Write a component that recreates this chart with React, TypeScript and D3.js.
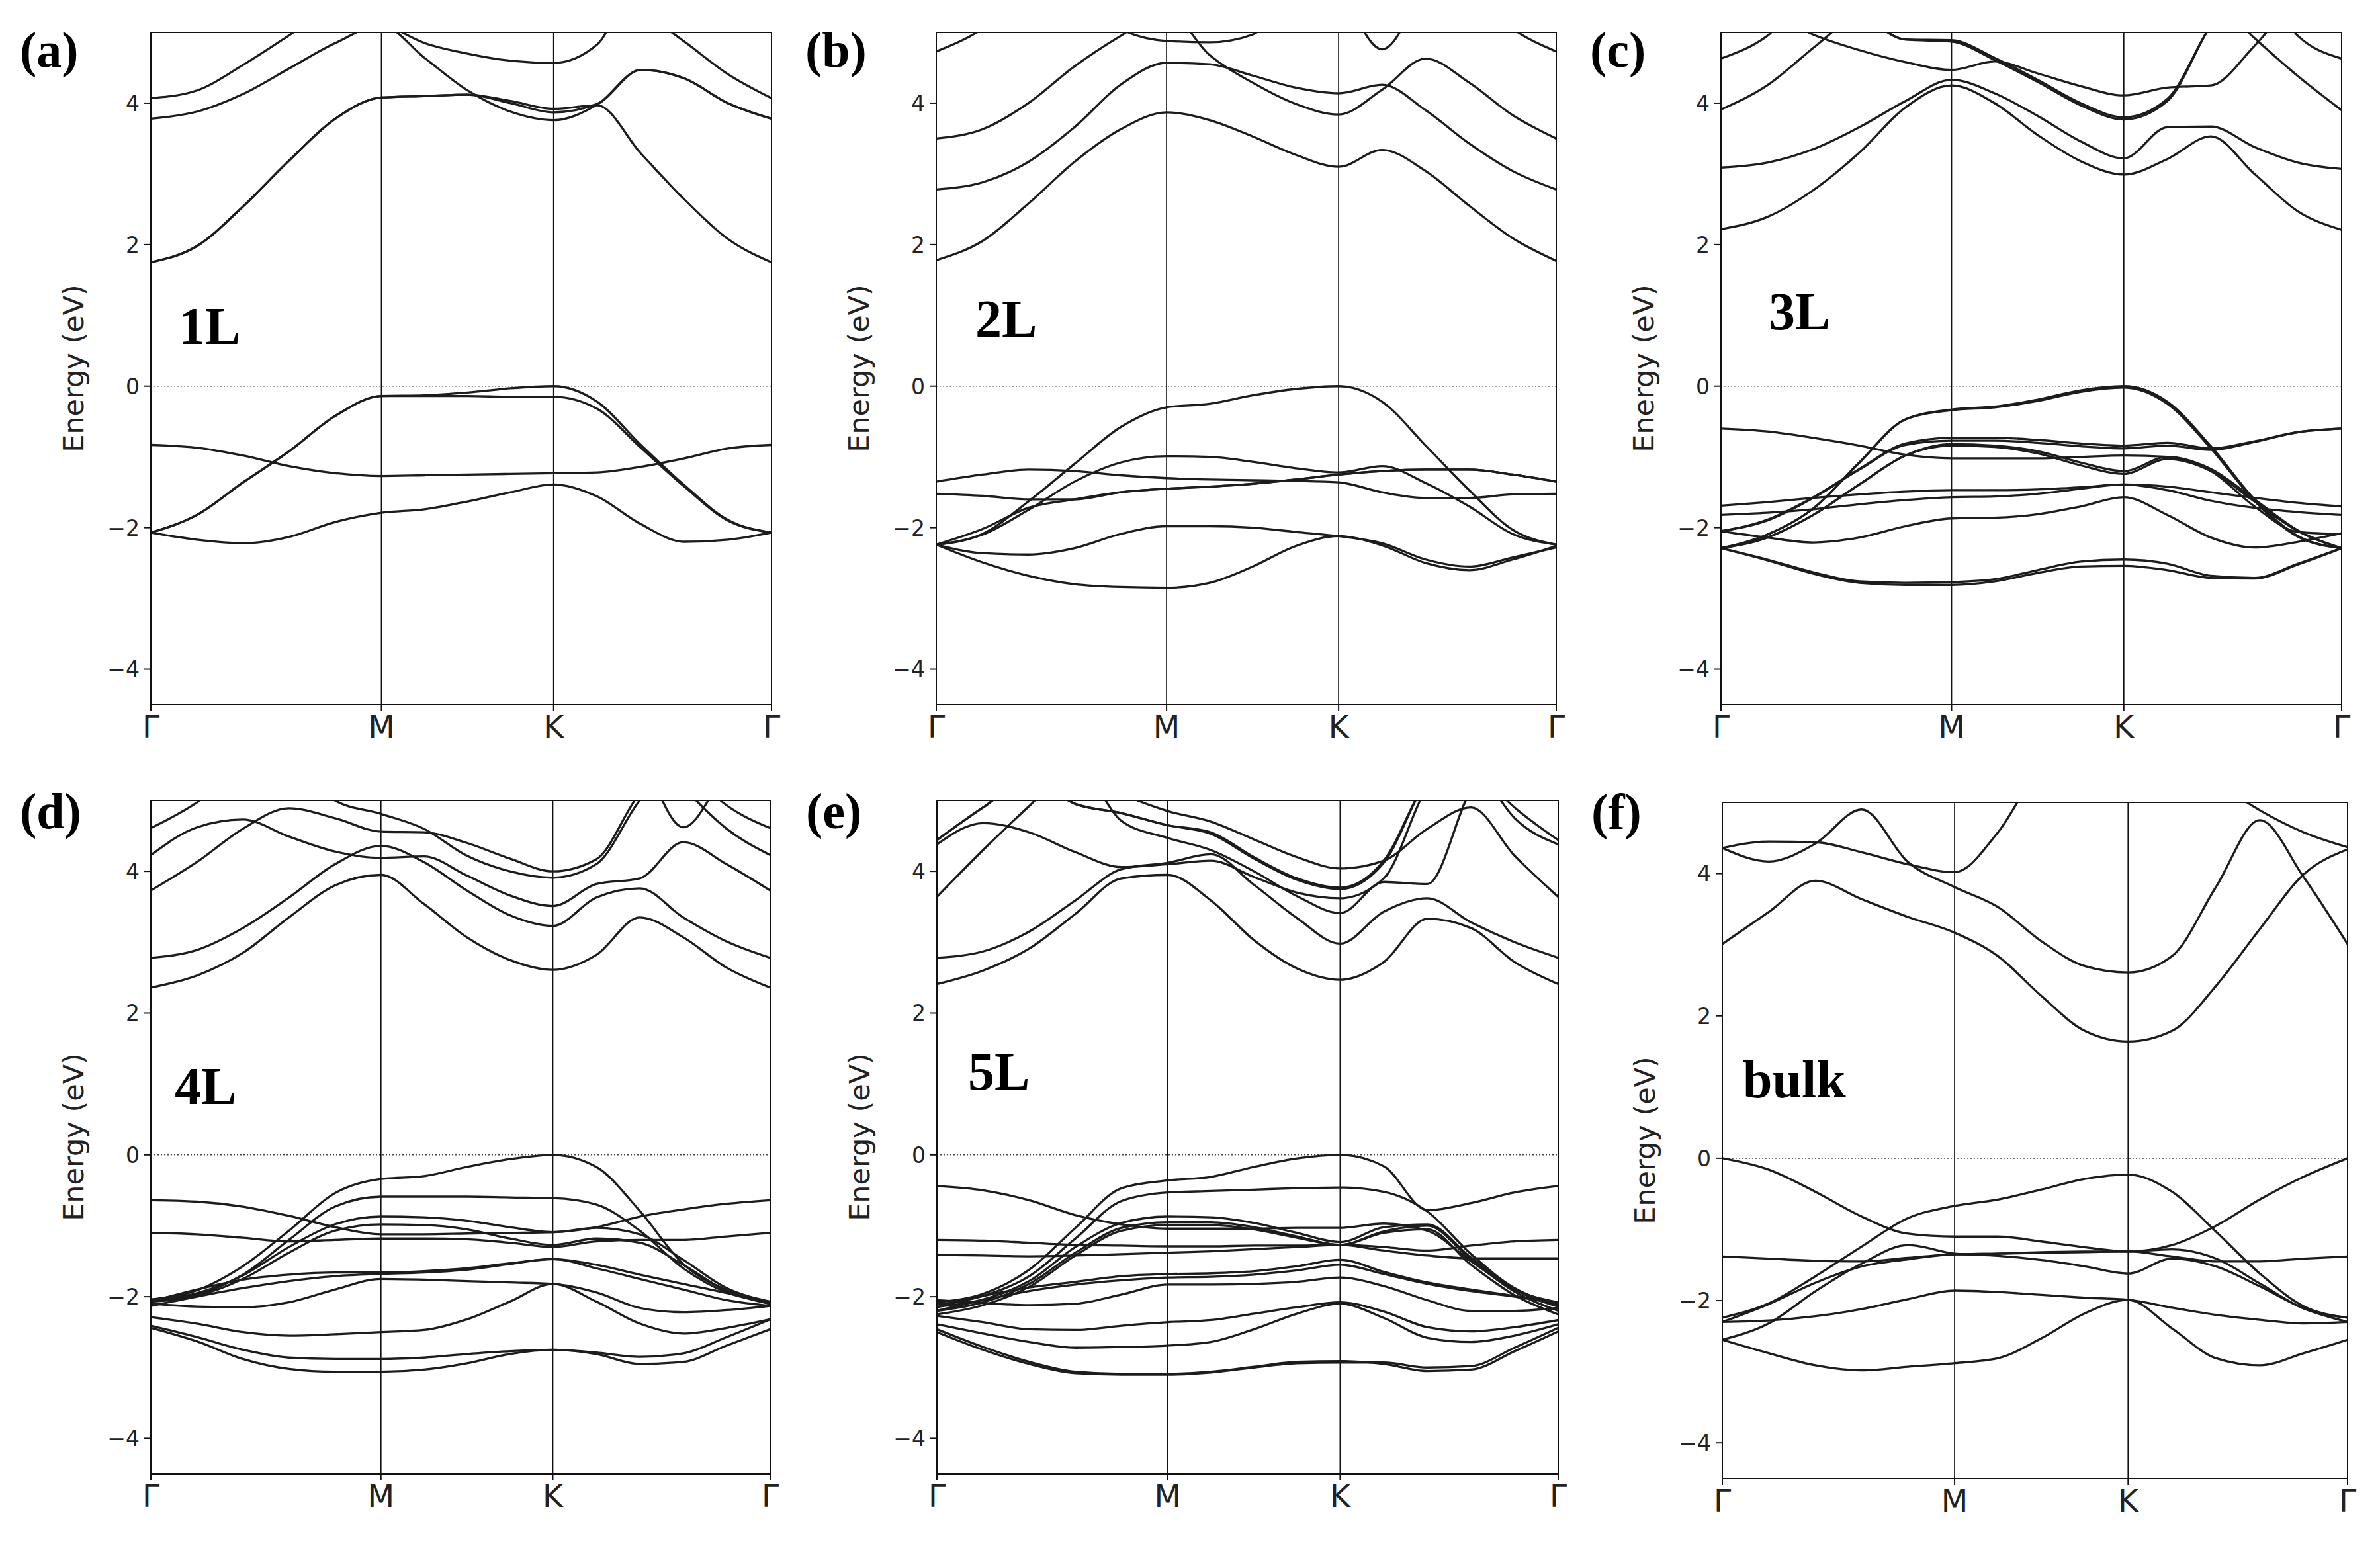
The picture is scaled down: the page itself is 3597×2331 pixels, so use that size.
import React from 'react'
import * as d3 from 'd3'

const W = 3597
const H = 2331

// k path Γ-M-K-Γ, positions as fraction of the path
const K_M = 0.3715
const K_K = 0.649
const gridGM = [0, 0.2, 0.4, 0.6, 0.8, 1]
const gridMK = [0.25, 0.5, 0.75, 1]
const gridKG = [0.2, 0.4, 0.6, 0.8, 1]
const kGrid = [
  ...gridGM.map(t => t * K_M),
  ...gridMK.map(t => K_M + t * (K_K - K_M)),
  ...gridKG.map(t => K_K + t * (1 - K_K)),
]
const kTicks = [0, K_M, K_K, 1]
const kLabels = ['Γ', 'M', 'K', 'Γ']
const eTicks = [-4, -2, 0, 2, 4]

// energies (eV) at the 15 k-points of kGrid
const bands1L = [
  [-2.07, -1.82, -1.36, -0.92, -0.42, -0.14, -0.13, -0.09, -0.03, 0.0, -0.22, -0.83, -1.4, -1.89, -2.07],
  [-2.07, -1.82, -1.36, -0.92, -0.42, -0.14, -0.14, -0.14, -0.15, -0.15, -0.32, -0.87, -1.42, -1.9, -2.07],
  [-0.83, -0.87, -0.98, -1.13, -1.23, -1.27, -1.26, -1.25, -1.24, -1.23, -1.22, -1.14, -1.02, -0.88, -0.83],
  [-2.07, -2.17, -2.22, -2.13, -1.92, -1.79, -1.74, -1.63, -1.5, -1.39, -1.56, -1.95, -2.2, -2.17, -2.07],
  [1.75, 1.98, 2.54, 3.19, 3.78, 4.08, 4.1, 4.12, 4.03, 3.92, 3.97, 3.29, 2.64, 2.08, 1.75],
  [1.75, 1.98, 2.54, 3.19, 3.78, 4.08, 4.1, 4.12, 4.0, 3.87, 3.99, 4.47, 4.35, 4.0, 3.78],
  [3.78, 3.88, 4.13, 4.49, 4.85, 5.1, 4.64, 4.18, 3.88, 3.76, 3.98, 4.47, 4.35, 4.0, 3.78],
  [4.07, 4.18, 4.54, 4.96, 5.4, 5.6, 5.6, 5.6, 5.5, 5.4, 5.6, 5.3, 4.87, 4.41, 4.07],
  [5.8, 5.8, 5.7, 5.6, 5.4, 5.15, 4.85, 4.7, 4.6, 4.57, 4.83, 5.8, 5.8, 5.8, 5.8],
]

const bands2L = [
  [-2.24, -2.09, -1.63, -1.1, -0.58, -0.3, -0.25, -0.13, -0.04, 0, -0.22, -0.84, -1.47, -2.03, -2.24],
  [-2.24, -2.1, -1.75, -1.35, -1.08, -0.99, -1.0, -1.07, -1.16, -1.22, -1.13, -1.37, -1.7, -2.09, -2.24],
  [-2.24, -2.02, -1.72, -1.6, -1.5, -1.45, -1.42, -1.38, -1.32, -1.25, -1.2, -1.18, -1.18, -1.25, -1.35],
  [-1.35, -1.25, -1.18, -1.2, -1.26, -1.3, -1.32, -1.33, -1.34, -1.36, -1.5, -1.58, -1.58, -1.53, -1.52],
  [-1.52, -1.55, -1.6, -1.6, -1.5, -1.45, -1.42, -1.38, -1.32, -1.25, -1.2, -1.18, -1.18, -1.25, -1.35],
  [-2.24, -2.36, -2.38, -2.29, -2.09, -1.98, -1.98, -2.0, -2.06, -2.12, -2.22, -2.45, -2.55, -2.42, -2.28],
  [-2.24, -2.49, -2.68, -2.8, -2.84, -2.85, -2.78, -2.55, -2.26, -2.12, -2.25, -2.5, -2.6, -2.45, -2.26],
  [1.78, 2.05, 2.58, 3.17, 3.63, 3.87, 3.76, 3.53, 3.27, 3.1, 3.34, 3.04, 2.55, 2.09, 1.77],
  [2.78, 2.88, 3.17, 3.66, 4.26, 4.57, 4.55, 4.39, 4.22, 4.14, 4.26, 3.9, 3.43, 3.04, 2.78],
  [3.5, 3.63, 4.0, 4.52, 4.95, 5.3, 4.68, 4.29, 3.99, 3.84, 4.19, 4.63, 4.29, 3.83, 3.5],
  [4.73, 5.05, 5.6, 5.8, 5.05, 4.88, 4.86, 4.97, 5.6, 5.8, 5.8, 5.8, 5.6, 5.05, 4.73],
  [6, 6, 6, 6, 6, 6, 6, 6, 6, 5.6, 4.76, 5.6, 6, 6, 6],
]

const bands3L = [
  [-2.29, -2.1, -1.73, -1.08, -0.47, -0.33, -0.29, -0.19, -0.06, 0.0, -0.22, -0.85, -1.6, -2.12, -2.29],
  [-2.29, -2.1, -1.73, -1.08, -0.47, -0.34, -0.3, -0.21, -0.08, -0.02, -0.25, -0.88, -1.62, -2.13, -2.29],
  [-0.6, -0.64, -0.73, -0.84, -0.97, -1.02, -1.02, -1.02, -1.0, -0.98, -1.0, -1.2, -1.7, -2.06, -2.09],
  [-2.05, -1.89, -1.57, -1.17, -0.81, -0.73, -0.73, -0.76, -0.81, -0.84, -0.8, -0.88, -0.78, -0.65, -0.6],
  [-2.05, -1.9, -1.58, -1.18, -0.83, -0.77, -0.77, -0.8, -0.85, -0.88, -0.84, -0.9, -0.79, -0.65, -0.6],
  [-2.29, -2.14, -1.82, -1.39, -0.98, -0.82, -0.84, -0.92, -1.08, -1.2, -1.0, -1.17, -1.6, -2.04, -2.29],
  [-2.29, -2.14, -1.82, -1.39, -0.98, -0.84, -0.86, -0.95, -1.12, -1.24, -1.03, -1.2, -1.63, -2.05, -2.29],
  [-1.69, -1.64, -1.58, -1.53, -1.49, -1.47, -1.47, -1.46, -1.43, -1.39, -1.42, -1.5, -1.58, -1.65, -1.7],
  [-1.82, -1.79, -1.74, -1.67, -1.61, -1.57, -1.56, -1.52, -1.45, -1.39, -1.47, -1.62, -1.72, -1.78, -1.82],
  [-2.05, -2.14, -2.21, -2.14, -1.98, -1.87, -1.86, -1.81, -1.7, -1.57, -1.82, -2.14, -2.28, -2.2, -2.08],
  [-2.29, -2.45, -2.63, -2.76, -2.78, -2.77, -2.73, -2.6, -2.48, -2.45, -2.51, -2.68, -2.71, -2.51, -2.29],
  [-2.29, -2.46, -2.65, -2.78, -2.81, -2.81, -2.76, -2.64, -2.55, -2.54, -2.6, -2.71, -2.72, -2.52, -2.29],
  [2.22, 2.39, 2.77, 3.3, 3.94, 4.25, 4.0, 3.55, 3.18, 2.99, 3.21, 3.53, 3.0, 2.47, 2.21],
  [3.09, 3.16, 3.35, 3.66, 4.03, 4.33, 4.14, 3.82, 3.46, 3.22, 3.66, 3.67, 3.38, 3.16, 3.07],
  [3.91, 4.25, 4.78, 5.3, 5.6, 5.7, 5.8, 5.8, 5.8, 5.8, 5.8, 5.5, 4.92, 4.38, 3.9],
  [5.6, 5.3, 4.97, 4.75, 4.58, 4.47, 4.59, 4.42, 4.24, 4.11, 4.22, 4.25, 4.81, 5.5, 5.8],
  [5.8, 5.8, 5.7, 5.3, 4.9, 4.89, 4.64, 4.33, 4.0, 3.8, 4.06, 5.1, 5.8, 5.8, 5.8],
  [5.8, 5.8, 5.7, 5.3, 4.9, 4.87, 4.61, 4.3, 3.97, 3.77, 4.03, 5.1, 5.8, 5.8, 5.8],
  [4.63, 4.95, 5.6, 5.8, 5.8, 5.8, 5.8, 5.8, 5.8, 5.8, 5.8, 5.8, 5.8, 4.95, 4.63],
]

const bands4L = [
  [-2.04, -1.91, -1.57, -1.07, -0.54, -0.34, -0.3, -0.17, -0.06, 0, -0.17, -0.79, -1.54, -1.91, -2.1],
  [-2.06, -1.97, -1.69, -1.2, -0.73, -0.59, -0.59, -0.59, -0.6, -0.61, -0.7, -1.07, -1.6, -1.94, -2.07],
  [-0.64, -0.66, -0.73, -0.86, -1.02, -1.12, -1.12, -1.11, -1.1, -1.09, -1.02, -0.87, -0.77, -0.69, -0.64],
  [-1.1, -1.12, -1.17, -1.22, -1.2, -1.18, -1.18, -1.19, -1.24, -1.3, -1.22, -1.2, -1.2, -1.15, -1.1],
  [-2.04, -1.95, -1.7, -1.3, -0.98, -0.87, -0.88, -0.93, -1.02, -1.09, -1.03, -1.12, -1.48, -1.88, -2.07],
  [-2.07, -1.99, -1.75, -1.38, -1.07, -0.98, -0.99, -1.05, -1.18, -1.27, -1.18, -1.24, -1.55, -1.92, -2.1],
  [-2.07, -1.9, -1.76, -1.69, -1.66, -1.66, -1.64, -1.6, -1.53, -1.47, -1.55, -1.69, -1.82, -1.95, -2.1],
  [-2.13, -2.0, -1.88, -1.78, -1.71, -1.68, -1.66, -1.62, -1.54, -1.47, -1.6, -1.75, -1.9, -2.05, -2.13],
  [-2.1, -2.14, -2.15, -2.08, -1.9, -1.75, -1.76, -1.78, -1.8, -1.82, -1.94, -2.16, -2.22, -2.19, -2.13],
  [-2.29, -2.38, -2.5, -2.55, -2.53, -2.5, -2.47, -2.32, -2.07, -1.82, -2.07, -2.38, -2.52, -2.44, -2.32],
  [-2.41, -2.57, -2.75, -2.86, -2.88, -2.88, -2.86, -2.81, -2.77, -2.75, -2.79, -2.85, -2.8, -2.57, -2.32],
  [-2.44, -2.63, -2.88, -3.02, -3.06, -3.06, -3.03, -2.94, -2.81, -2.75, -2.81, -2.95, -2.92, -2.69, -2.46],
  [2.36, 2.53, 2.85, 3.35, 3.8, 3.95, 3.54, 3.07, 2.75, 2.61, 2.82, 3.35, 3.07, 2.64, 2.36],
  [2.78, 2.89, 3.2, 3.63, 4.1, 4.36, 4.13, 3.73, 3.38, 3.23, 3.63, 3.76, 3.35, 3.01, 2.78],
  [3.73, 4.13, 4.6, 4.89, 4.75, 4.56, 4.55, 4.4, 4.18, 4.0, 4.17, 5.1, 5.6, 5.6, 5.6],
  [4.23, 4.62, 4.73, 4.49, 4.28, 4.19, 4.21, 3.94, 3.66, 3.51, 3.82, 3.9, 4.41, 4.1, 3.73],
  [4.61, 4.97, 5.5, 5.6, 5.0, 4.81, 4.6, 4.22, 4.0, 3.91, 4.1, 5.0, 5.6, 5.6, 5.6],
  [6, 6, 6, 6, 6, 6, 6, 6, 6, 6, 6, 5.6, 4.62, 5.4, 6],
  [6, 6, 6, 6, 6, 6, 6, 6, 6, 6, 6, 6, 5.5, 4.93, 4.61],
  [6, 6, 6, 6, 6, 6, 6, 6, 6, 6, 6, 6, 5.2, 4.6, 4.23],
]

const bands5L = [
  [-2.08, -1.96, -1.62, -1.03, -0.47, -0.36, -0.31, -0.17, -0.05, 0, -0.16, -0.78, -0.68, -0.53, -0.44],
  [-2.11, -1.99, -1.71, -1.18, -0.65, -0.53, -0.51, -0.49, -0.47, -0.46, -0.52, -0.8, -1.4, -1.88, -2.11],
  [-0.44, -0.5, -0.64, -0.85, -0.98, -1.04, -1.04, -1.04, -1.03, -1.03, -0.97, -1.07, -1.5, -1.9, -2.08],
  [-2.14, -2.04, -1.78, -1.3, -0.96, -0.87, -0.88, -0.96, -1.1, -1.23, -1.02, -0.98, -1.45, -1.9, -2.14],
  [-2.2, -2.08, -1.82, -1.38, -1.03, -0.95, -0.95, -1.02, -1.15, -1.27, -1.08, -1.0, -1.48, -1.93, -2.2],
  [-2.25, -2.12, -1.86, -1.42, -1.07, -0.99, -0.99, -1.05, -1.17, -1.27, -1.1, -1.05, -1.55, -1.98, -2.25],
  [-1.2, -1.21, -1.24, -1.27, -1.28, -1.29, -1.29, -1.28, -1.28, -1.27, -1.3, -1.35, -1.28, -1.22, -1.2],
  [-1.41, -1.42, -1.43, -1.42, -1.4, -1.38, -1.36, -1.33, -1.3, -1.27, -1.35, -1.42, -1.46, -1.46, -1.46],
  [-2.15, -1.99, -1.87, -1.79, -1.71, -1.68, -1.67, -1.64, -1.57, -1.48, -1.65, -1.8, -1.9, -1.99, -2.08],
  [-2.2, -2.05, -1.92, -1.83, -1.77, -1.73, -1.72, -1.69, -1.63, -1.55, -1.68, -1.82, -1.92, -2.0, -2.1],
  [-2.05, -2.09, -2.12, -2.1, -1.97, -1.83, -1.83, -1.82, -1.79, -1.73, -1.85, -2.05, -2.2, -2.2, -2.16],
  [-2.27, -2.36, -2.46, -2.47, -2.41, -2.36, -2.33, -2.24, -2.15, -2.08, -2.21, -2.43, -2.49, -2.43, -2.33],
  [-2.39, -2.52, -2.64, -2.72, -2.71, -2.69, -2.64, -2.46, -2.24, -2.1, -2.3, -2.58, -2.64, -2.55, -2.39],
  [-2.46, -2.71, -2.92, -3.06, -3.09, -3.09, -3.06, -2.99, -2.92, -2.91, -2.95, -3.05, -3.03, -2.77, -2.49],
  [-2.5, -2.75, -2.95, -3.08, -3.1, -3.1, -3.07, -3.0, -2.94, -2.93, -2.93, -3.0, -2.98, -2.72, -2.44],
  [2.41, 2.6, 2.91, 3.4, 3.9, 3.95, 3.59, 3.03, 2.63, 2.47, 2.72, 3.33, 3.2, 2.72, 2.41],
  [2.78, 2.87, 3.15, 3.59, 4.03, 4.12, 4.24, 3.81, 3.34, 2.98, 3.43, 3.62, 3.28, 3.0, 2.78],
  [3.64, 4.3, 4.92, 5.5, 4.71, 4.47, 4.3, 4.0, 3.65, 3.41, 3.85, 3.82, 5.15, 5.8, 5.8],
  [4.38, 4.68, 4.55, 4.27, 4.06, 4.1, 4.15, 3.92, 3.7, 3.62, 3.9, 5.2, 5.8, 5.8, 5.8],
  [4.44, 4.9, 5.3, 4.95, 4.82, 4.65, 4.55, 4.2, 3.9, 3.77, 4.15, 5.3, 5.8, 5.8, 5.8],
  [4.44, 4.9, 5.3, 4.95, 4.82, 4.65, 4.53, 4.18, 3.88, 3.75, 4.12, 5.3, 5.8, 5.8, 5.8],
  [5.8, 5.8, 5.8, 5.5, 5.1, 4.85, 4.7, 4.45, 4.2, 4.04, 4.15, 4.6, 4.9, 4.22, 3.64],
  [6, 6, 6, 6, 6, 6, 6, 6, 6, 6, 6, 6, 5.5, 4.9, 4.44],
  [6, 6, 6, 6, 6, 6, 6, 6, 6, 6, 6, 6, 5.6, 4.75, 4.38],
]

const bandsBulk = [
  [0, -0.16, -0.47, -0.82, -1.06, -1.1, -1.1, -1.17, -1.25, -1.31, -1.22, -0.95, -0.58, -0.26, 0],
  [-2.24, -2.04, -1.66, -1.24, -0.84, -0.67, -0.58, -0.44, -0.29, -0.23, -0.47, -1.03, -1.62, -2.08, -2.24],
  [-1.38, -1.41, -1.44, -1.45, -1.4, -1.35, -1.34, -1.33, -1.32, -1.31, -1.38, -1.45, -1.45, -1.41, -1.38],
  [-2.55, -2.32, -1.87, -1.48, -1.22, -1.34, -1.37, -1.43, -1.52, -1.62, -1.41, -1.52, -1.8, -2.11, -2.3],
  [-2.3, -2.05, -1.75, -1.52, -1.42, -1.35, -1.34, -1.32, -1.31, -1.31, -1.28, -1.41, -1.76, -2.11, -2.24],
  [-2.3, -2.28, -2.22, -2.12, -1.98, -1.86, -1.88, -1.92, -1.96, -1.99, -2.1, -2.2, -2.27, -2.32, -2.3],
  [-2.55, -2.74, -2.91, -2.98, -2.93, -2.88, -2.81, -2.53, -2.18, -1.99, -2.39, -2.81, -2.91, -2.74, -2.55],
  [3.01, 3.46, 3.9, 3.64, 3.39, 3.17, 2.84, 2.28, 1.79, 1.64, 1.79, 2.42, 3.22, 3.99, 4.34],
  [4.36, 4.17, 4.42, 4.9, 4.16, 3.81, 3.53, 3.05, 2.7, 2.61, 2.84, 3.81, 4.75, 3.95, 3.01],
  [4.36, 4.45, 4.44, 4.3, 4.13, 4.02, 4.58, 5.5, 5.8, 5.8, 5.8, 5.3, 4.89, 4.58, 4.37],
]

const panels = [
  { tag: '(a)', name: '1L', x0: 228, x1: 1166, y0: 49, y1: 1065, nameE: 0.6, nameDx: 42, tagDy: 52, bands: bands1L },
  { tag: '(b)', name: '2L', x0: 1415, x1: 2352, y0: 49, y1: 1065, nameE: 0.7, nameDx: 59, tagDy: 52, bands: bands2L },
  { tag: '(c)', name: '3L', x0: 2601, x1: 3539, y0: 49, y1: 1065, nameE: 0.8, nameDx: 72, tagDy: 52, bands: bands3L },
  { tag: '(d)', name: '4L', x0: 228, x1: 1164, y0: 1210, y1: 2228, nameE: 0.72, nameDx: 36, tagDy: 42, bands: bands4L },
  { tag: '(e)', name: '5L', x0: 1416, x1: 2355, y0: 1210, y1: 2228, nameE: 0.92, nameDx: 47, tagDy: 42, bands: bands5L },
  { tag: '(f)', name: 'bulk', x0: 2603, x1: 3548, y0: 1213, y1: 2235, nameE: 0.85, nameDx: 31, tagDy: 40, bands: bandsBulk },
]

const tickFmt = (e: number) => (e < 0 ? `\u2212${-e}` : `${e}`)

function Panel({ p, idx }: { p: typeof panels[number]; idx: number }) {
  const x = d3.scaleLinear().domain([0, 1]).range([p.x0, p.x1])
  const y = d3.scaleLinear().domain([-4.5, 5]).range([p.y1, p.y0])
  const line = d3.line<number>()
    .x((_, i) => x(kGrid[i]))
    .y(d => y(d))
    .curve(d3.curveMonotoneX)
  const clipId = `clip-${idx}`
  const sans = 'DejaVu Sans, sans-serif'
  return (
    <g>
      <defs>
        <clipPath id={clipId}>
          <rect x={p.x0} y={p.y0} width={p.x1 - p.x0} height={p.y1 - p.y0} />
        </clipPath>
      </defs>
      <g clipPath={`url(#${clipId})`}>
        <line x1={p.x0} x2={p.x1} y1={y(0)} y2={y(0)} stroke="#444" strokeWidth={1.6} strokeDasharray="2 3" />
        {kTicks.slice(1, 3).map((k, i) => (
          <line key={i} x1={x(k)} x2={x(k)} y1={p.y0} y2={p.y1} stroke="#111" strokeWidth={1.8} />
        ))}
        {p.bands.map((b, i) => (
          <path key={i} d={line(b) || ''} fill="none" stroke="#1c1c1c" strokeWidth={3.3} />
        ))}
      </g>
      <rect x={p.x0} y={p.y0} width={p.x1 - p.x0} height={p.y1 - p.y0} fill="none" stroke="#111" strokeWidth={2} />
      {eTicks.map(e => (
        <g key={e}>
          <line x1={p.x0 - 10} x2={p.x0} y1={y(e)} y2={y(e)} stroke="#111" strokeWidth={2} />
          <text x={p.x0 - 17} y={y(e)} dy="0.36em" textAnchor="end" fontFamily={sans} fontSize={33} fill="#222">
            {tickFmt(e)}
          </text>
        </g>
      ))}
      {kTicks.map((k, i) => (
        <g key={i}>
          <line x1={x(k)} x2={x(k)} y1={p.y1} y2={p.y1 + 10} stroke="#111" strokeWidth={2} />
          <text x={x(k)} y={p.y1 + 50} textAnchor="middle" fontFamily={sans} fontSize={47} fill="#222">
            {kLabels[i]}
          </text>
        </g>
      ))}
      <text
        transform={`translate(${p.x0 - 102},${(p.y0 + p.y1) / 2}) rotate(-90)`}
        textAnchor="middle"
        fontFamily={sans}
        fontSize={43}
        fill="#222"
      >
        Energy (eV)
      </text>
      <text x={p.x0 + p.nameDx} y={y(p.nameE)} fontFamily="Liberation Serif, serif" fontWeight="bold" fontSize={80} fill="#000">
        {p.name}
      </text>
      <text x={p.x0 - 198} y={p.y0 + p.tagDy} fontFamily="Liberation Serif, serif" fontWeight="bold" fontSize={76} fill="#000">
        {p.tag}
      </text>
    </g>
  )
}

export default function App() {
  return (
    <svg width={W} height={H} style={{ position: 'absolute', left: 0, top: 0, background: '#fff' }}>
      <rect width={W} height={H} fill="#fff" />
      {panels.map((p, i) => (
        <Panel key={i} p={p} idx={i} />
      ))}
    </svg>
  )
}
